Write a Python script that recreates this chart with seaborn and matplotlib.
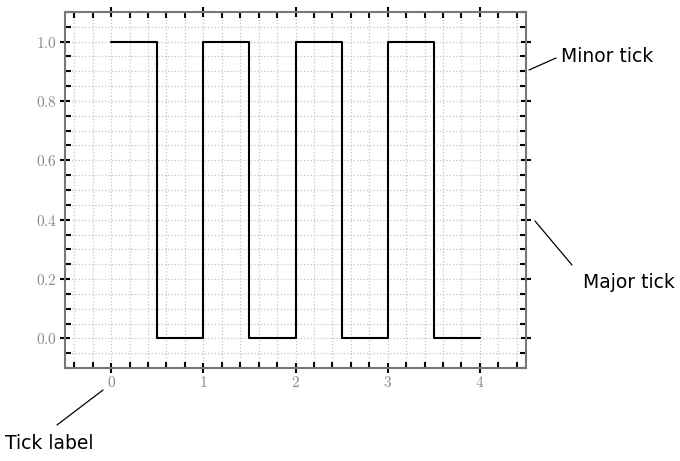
import matplotlib
matplotlib.use("Agg")
import matplotlib.pyplot as plt
import seaborn as sns
import pandas as pd
import numpy as np
from matplotlib.ticker import MultipleLocator, FuncFormatter

# data
x_vals = [0, 0.5, 1, 1.5, 2, 2.5, 3, 3.5, 4]
y_vals = [1, 0, 1, 0, 1, 0, 1, 0, 0]
x_ticks = [0, 1, 2, 3, 4]
y_ticks = [0.0, 0.2, 0.4, 0.6, 0.8, 1.0]
notes = ["Minor tick", "Major tick", "Tick label"]

sns.set_style("white")
plt.rcParams['font.family'] = ['DejaVu Sans']
plt.rcParams['mathtext.fontset'] = 'cm'

df = pd.DataFrame({"x": x_vals, "y": y_vals})

fig = plt.figure(figsize=(6.8, 4.61), dpi=100)
W, H = 680, 461
ax = fig.add_axes([65 / W, 1 - 368 / H, (526 - 65) / W, (368 - 12) / H])

sns.lineplot(data=df, x="x", y="y", ax=ax, color="black", lw=1.5,
             drawstyle="steps-post", zorder=3)

ax.set_xlim(-0.5, 4.5)
ax.set_ylim(-0.1, 1.1)
ax.set_xticks(x_ticks)
ax.set_yticks(y_ticks)
ax.xaxis.set_minor_locator(MultipleLocator(0.2))
ax.yaxis.set_minor_locator(MultipleLocator(0.05))
ax.xaxis.set_major_formatter(FuncFormatter(lambda v, p: f"${v:.0f}$"))
ax.yaxis.set_major_formatter(FuncFormatter(lambda v, p: f"${v:.1f}$"))
ax.set_xlabel("")
ax.set_ylabel("")

ax.tick_params(which="major", direction="inout", length=6.5, width=1.5,
               color="black", labelcolor="#8a8a8a", labelsize=11, pad=2.5,
               top=True, right=True, bottom=True, left=True,
               labeltop=False, labelright=False)
ax.tick_params(which="minor", direction="in", length=4, width=1.5,
               color="black", top=True, right=True, bottom=True, left=True)
ax.tick_params(axis="x", which="major", pad=1.5)

for s in ax.spines.values():
    s.set_color("#777777")
    s.set_linewidth(1.5)

ax.grid(which="both", linestyle=":", color="#c4c4c4", linewidth=0.9, zorder=0)
ax.set_axisbelow(True)

def px(x, y):
    return (x, H - y)

lines = [((529, 70), (556, 58)), ((535, 221), (572, 265)), ((103, 390), (57, 425))]
texts = [(561, 57), (583, 282), (5, 443)]
for (a, b), (tx, ty), label in zip(lines, texts, notes):
    ax.annotate("", xy=px(*a), xycoords="figure pixels", xytext=px(*b),
                textcoords="figure pixels",
                arrowprops=dict(arrowstyle="-", lw=0.9, color="black",
                                shrinkA=0, shrinkB=0),
                annotation_clip=False)
    fig.text(tx / W, 1 - ty / H, label, ha="left", va="center", fontsize=13.5,
             color="black")

fig.savefig("out.png", dpi=100)
